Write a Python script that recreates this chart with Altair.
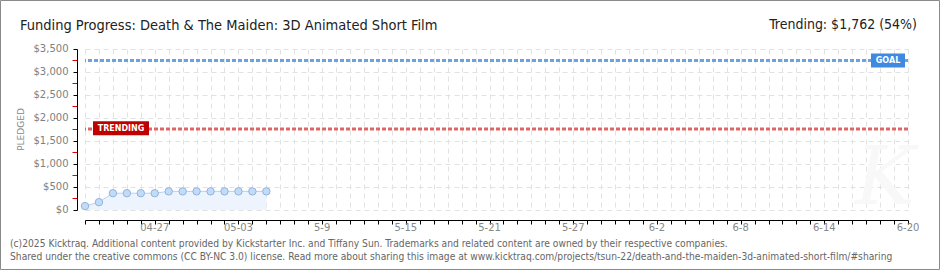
import json
import altair as alt
import pandas as pd

# ---------------- data ----------------
dates = ["2025-04-22", "2025-04-23", "2025-04-24", "2025-04-25", "2025-04-26",
         "2025-04-27", "2025-04-28", "2025-04-29", "2025-04-30", "2025-05-01",
         "2025-05-02", "2025-05-03", "2025-05-04", "2025-05-05"]
pledged = [85, 170, 365, 365, 365, 365, 405, 405, 405, 405, 405, 405, 405, 405]
goal = 3250
trending = 1762
start_date = "2025-04-22"
end_date = "2025-06-20"
label_dates = ["2025-04-27", "2025-05-03", "2025-05-09", "2025-05-15", "2025-05-21",
               "2025-05-27", "2025-06-02", "2025-06-08", "2025-06-14", "2025-06-20"]
tick_labels = ["04-27", "05-03", "5-9", "5-15", "5-21", "5-27", "6-2", "6-8", "6-14", "6-20"]
y_ticks = [0, 500, 1000, 1500, 2000, 2500, 3000, 3500]
y_tick_labels = ["$0", "$500", "$1,000", "$1,500", "$2,000", "$2,500", "$3,000", "$3,500"]
minor_ticks = [250, 750, 1250, 1750, 2250, 2750, 3250]

title_text = "Funding Progress: Death & The Maiden: 3D Animated Short Film"
trend_text = "Trending:  $1,762 (54%)"
footer1 = ("(c)2025 Kicktraq. Additional content provided by Kickstarter Inc. and Tiffany Sun. "
           "Trademarks and related content are owned by their respective companies.")
footer2 = ("Shared under the creative commons (CC BY-NC 3.0) license. Read more about sharing this "
           "image at www.kicktraq.com/projects/tsun-22/death-and-the-maiden-3d-animated-short-film/#sharing")

# ---------------- derived tables ----------------
t0 = pd.Timestamp(start_date)
day = [(pd.Timestamp(d) - t0).days for d in dates]
last_day = (pd.Timestamp(end_date) - t0).days
label_days = [(pd.Timestamp(d) - t0).days for d in label_dates]

df = pd.DataFrame({"day": day, "pledged": pledged})
minor_df = pd.DataFrame({"pledged": minor_ticks})
xlab_df = pd.DataFrame({"day": label_days, "t": tick_labels})
ylab_df = pd.DataFrame({"pledged": y_ticks, "t": y_tick_labels})

FONT = "DejaVu Sans"
COND = "DejaVu Sans Condensed"
GRID = "#e2e2e2"

x_scale = alt.Scale(domain=[0, last_day], nice=False, zero=False)
y_scale = alt.Scale(domain=[0, 3500], nice=False)

X_AXIS = alt.Axis(
    values=list(range(0, last_day + 1)), labels=False, title=None,
    grid=True, gridColor=GRID, gridDash=[5, 4], gridWidth=1,
    domainColor="#000", tickColor="#000", tickSize=4, offset=10)
Y_AXIS = alt.Axis(
    values=y_ticks, labels=False, title="PLEDGED",
    grid=True, gridColor=GRID, gridDash=[5, 4], gridWidth=1,
    domainColor="#000", tickColor="#000", tickSize=4, offset=8,
    titleFont=FONT, titleFontSize=9, titleColor="#888", titleFontWeight="normal",
    titleX=-57, titleY=80, titleAngle=-90, titleBaseline="middle")


def xe():
    return alt.X("day:Q", scale=x_scale, axis=X_AXIS)


def ye():
    return alt.Y("pledged:Q", scale=y_scale, axis=Y_AXIS)


area = alt.Chart(df).mark_area(color="#edf4fd", opacity=1).encode(x=xe(), y=ye())
line = alt.Chart(df).mark_line(color="#b6d1f2", strokeWidth=1).encode(x=xe(), y=ye())

goal_df = pd.DataFrame({"pledged": [goal], "t": ["GOAL"]})
trend_df = pd.DataFrame({"pledged": [trending], "t": ["TRENDING"]})

goal_rule = alt.Chart(goal_df).mark_rule(
    color="#6aa3e3", strokeWidth=3, strokeDash=[4, 2]).encode(y=ye())
trend_rule = alt.Chart(trend_df).mark_rule(
    color="#df6666", strokeWidth=3, strokeDash=[4, 2]).encode(y=ye())

minor = alt.Chart(minor_df).mark_rule(color="#e00000", strokeWidth=1).encode(
    y=ye(), x=alt.value(-12.5), x2=alt.value(-8))

# tick labels drawn through the scales
xlabels = alt.Chart(xlab_df).mark_text(
    font=FONT, fontSize=10, color="#888", align="center", baseline="middle").encode(
    x=xe(), y=alt.value(178.5), text="t:N")
ylabels = alt.Chart(ylab_df).mark_text(
    font=FONT, fontSize=10, color="#808080", align="right", baseline="middle").encode(
    y=ye(), x=alt.value(-16.5), text="t:N")

points = alt.Chart(df).mark_point(
    shape="circle", filled=True, fill="#c4dbf6", stroke="#8fb3e0", strokeWidth=1,
    size=55, opacity=1).encode(x=xe(), y=ye())

goal_box = alt.Chart(goal_df).mark_point(
    shape="M-1,-0.41L1,-0.41L1,0.41L-1,0.41Z", filled=True, fill="#3f8ae0",
    size=34 * 34, opacity=1, strokeWidth=0).encode(y=ye(), x=alt.value(803))
goal_txt = alt.Chart(goal_df).mark_text(
    font=FONT, fontSize=8, fontWeight="bold", color="white", align="center",
    baseline="middle", dy=0.5).encode(y=ye(), x=alt.value(803), text="t:N")

trend_box = alt.Chart(trend_df).mark_point(
    shape="M-1,-0.25L1,-0.25L1,0.25L-1,0.25Z", filled=True, fill="#bf0000",
    size=56 * 56, opacity=1, strokeWidth=0).encode(y=ye(), x=alt.value(36), yOffset=alt.value(-0.6))
trend_txt = alt.Chart(trend_df).mark_text(
    font=FONT, fontSize=8, fontWeight="bold", color="white", align="center",
    baseline="middle").encode(y=ye(), x=alt.value(36), text="t:N")


def label(text, x, y, size, color, align="left", font=FONT, **kw):
    return alt.Chart(pd.DataFrame({"t": [text]})).mark_text(
        font=font, fontSize=size, color=color, align=align, baseline="alphabetic", **kw
    ).encode(x=alt.value(x), y=alt.value(y), text="t:N")


title = label(title_text, -65, -19.5, 14.5, "#222", font=COND)
trend_lbl = label(trend_text, 832, -20, 14, "#222", align="right", font=COND)
foot1 = label(footer1, -75, 197.5, 10.2, "#666", font=COND)
foot2 = label(footer2, -75, 210.5, 10.2, "#666", font=COND)
watermark = label("K", 770, 155, 80, "#f8f8f8", font="DejaVu Serif", fontStyle="italic")

frame = alt.Chart(pd.DataFrame({"t": [0]})).mark_rect(
    fill=None, fillOpacity=0, stroke="#8a8a8a", strokeWidth=1).encode(
    x=alt.value(-84.5), x2=alt.value(854.5), y=alt.value(-48.5), y2=alt.value(220.5))

chart = alt.layer(
    area, line, watermark, goal_rule, trend_rule, minor, xlabels, ylabels, points,
    goal_box, goal_txt, trend_box, trend_txt, title, trend_lbl, foot1, foot2, frame
).properties(
    width=823, height=161,
    autosize=alt.AutoSizeParams(type="none"),
    padding={"left": 85, "top": 49, "right": 32, "bottom": 60},
    background="white",
).configure_view(stroke=None)

chart.save("out.html", embed_options={"renderer": "svg", "actions": False})
